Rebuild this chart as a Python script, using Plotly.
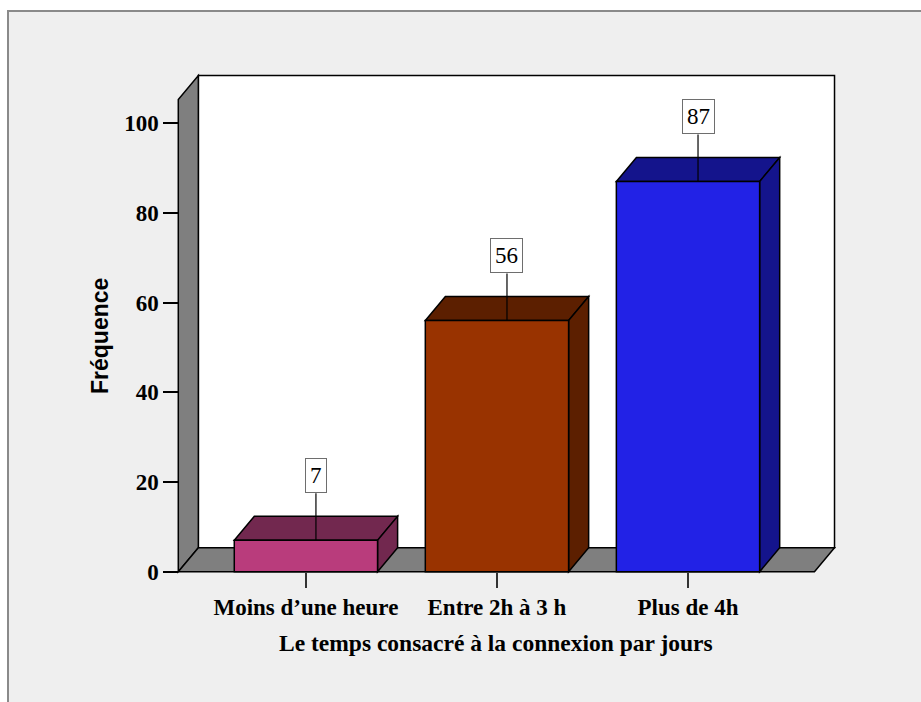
import plotly.graph_objects as go

# ---- data ----
categories = ["Moins d\u2019une heure", "Entre 2h \u00e0 3 h", "Plus de 4h"]
frequencies = [7, 56, 87]
front_colors = ["#b93c7c", "#993300", "#2222e6"]
top_colors = ["#72284f", "#5c1f00", "#14148c"]
y_ticks = [0, 20, 40, 60, 80, 100]
x_title = "Le temps consacr\u00e9 \u00e0 la connexion par jours"
y_title = "Fr\u00e9quence"

# ---- geometry (styling) ----
W, H = 921, 702
ML, MR, MT, MB = 176, 84, 73, 128
XR = [-0.68, 2.78]
YR = [-0.5, 111.2]
XL, XRF = -0.668, 2.662      # front wall left / floor front right
YTOP = 105.3                 # top of front plane
DX, DY = 0.105, 5.35         # 3D depth offset
BW = 0.75
LBL_OFF = 10.5
EDGE = dict(color="black", width=1.5)

PW, PH = W - ML - MR, H - MT - MB


def px2paper_x(px):
    return (px - ML) / PW


def px2paper_y(py):
    return (H - MB - py) / PH


xs = list(range(len(categories)))

fig = go.Figure()
fig.add_trace(go.Bar(
    x=xs, y=frequencies, width=BW,
    marker=dict(color=front_colors, line=EDGE),
    hoverinfo="skip", showlegend=False,
))

shapes = []
# outer page background and border
shapes.append(dict(type="rect", xref="paper", yref="paper", layer="below",
                   x0=px2paper_x(8), x1=px2paper_x(940),
                   y0=px2paper_y(720), y1=px2paper_y(11),
                   fillcolor="#efefef", line=dict(color="#8a8a8a", width=2)))


def poly(pts):
    return "M " + " L ".join(f"{x},{y}" for x, y in pts) + " Z"


# back wall
shapes.append(dict(type="rect", xref="x", yref="y", layer="below",
                   x0=XL + DX, x1=XRF + DX, y0=DY, y1=YTOP + DY,
                   fillcolor="white", line=EDGE))
# left wall
shapes.append(dict(type="path", xref="x", yref="y", layer="below",
                   path=poly([(XL, 0), (XL, YTOP), (XL + DX, YTOP + DY), (XL + DX, DY)]),
                   fillcolor="#7f7f7f", line=EDGE))
# floor
shapes.append(dict(type="path", xref="x", yref="y", layer="below",
                   path=poly([(XL, 0), (XRF, 0), (XRF + DX, DY), (XL + DX, DY)]),
                   fillcolor="#7f7f7f", line=EDGE))

annotations = []
for c, v, tc in zip(xs, frequencies, top_colors):
    l, r = c - BW / 2, c + BW / 2
    # top face
    shapes.append(dict(type="path", xref="x", yref="y", layer="below",
                       path=poly([(l, v), (r, v), (r + DX, v + DY), (l + DX, v + DY)]),
                       fillcolor=tc, line=EDGE))
    # side face
    shapes.append(dict(type="path", xref="x", yref="y", layer="below",
                       path=poly([(r, 0), (r + DX, DY), (r + DX, v + DY), (r, v)]),
                       fillcolor=tc, line=EDGE))
    # leader line
    shapes.append(dict(type="line", xref="x", yref="y", layer="above",
                       x0=c + DX / 2, x1=c + DX / 2, y0=v, y1=v + LBL_OFF,
                       line=dict(color="black", width=1.2)))
    annotations.append(dict(x=c + DX / 2, y=v + LBL_OFF, xref="x", yref="y",
                            text=str(v), showarrow=False,
                            xanchor="center", yanchor="bottom",
                            font=dict(family="Liberation Serif", size=23, color="black"),
                            bgcolor="white", bordercolor="#6e6e6e", borderwidth=1,
                            borderpad=4))

# axis titles
annotations.append(dict(x=px2paper_x(496), y=px2paper_y(643), xref="paper", yref="paper",
                        text=x_title, showarrow=False, xanchor="center", yanchor="middle",
                        font=dict(family="Liberation Serif", size=23.5, color="black",
                                  weight="bold")))
annotations.append(dict(x=px2paper_x(100), y=px2paper_y(336), xref="paper", yref="paper",
                        text=y_title, showarrow=False, xanchor="center", yanchor="middle",
                        textangle=-90,
                        font=dict(family="Liberation Sans", size=23, color="black",
                                  weight="bold")))

fig.update_layout(
    width=W, height=H,
    margin=dict(l=ML, r=MR, t=MT, b=MB, pad=0),
    paper_bgcolor="white", plot_bgcolor="#efefef",
    shapes=shapes, annotations=annotations,
    showlegend=False,
    xaxis=dict(range=XR, tickvals=xs, ticktext=categories,
               showgrid=False, zeroline=False, showline=False,
               ticks="outside", ticklen=15, tickwidth=1.5, tickcolor="#333",
               tickfont=dict(family="Liberation Serif", size=23, color="black",
                             weight="bold"),
               anchor="free",
               position=(0 - YR[0]) / (YR[1] - YR[0]),
               fixedrange=True),
    yaxis=dict(range=YR, tickvals=y_ticks,
               showgrid=False, zeroline=False, showline=False,
               ticks="outside", ticklen=15, tickwidth=1.5, tickcolor="black",
               tickfont=dict(family="Liberation Serif", size=23, color="black",
                             weight="bold"),
               anchor="free",
               position=(XL - XR[0]) / (XR[1] - XR[0]),
               fixedrange=True),
)

fig.write_html("out.html",
               config={"displayModeBar": False},
               post_script="document.body.style.margin='0';document.body.style.padding='0';")
